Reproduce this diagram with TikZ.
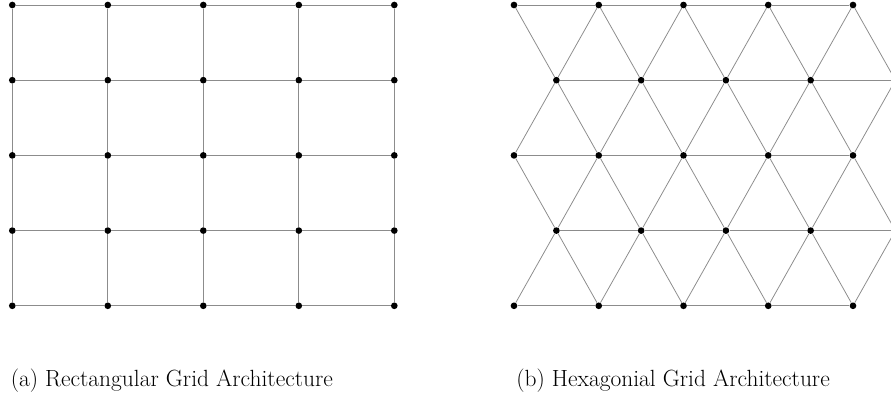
\documentclass[tikz,border=0pt]{standalone}
\begin{document}
\begin{tikzpicture}[x=0.704pt,y=-0.704pt,
  dot/.style={circle,fill=black,inner sep=0pt,minimum size=4.7pt},
  edge/.style={draw=black!45,line width=0.55pt},
  captext/.style={anchor=base west,inner sep=0pt,font=\fontsize{16.5}{20}\selectfont}]
\useasboundingbox (0,0) rectangle (891,399);
\clip (0,0) rectangle (891,399);
% rectangular grid
\foreach \i in {0,...,4} \foreach \j in {0,...,4}
  \node[dot] (r-\i-\j) at ({12.3+95.5*\i},{5+75.2*\j}) {};
\foreach \i in {0,...,4} \foreach \j in {0,...,3} {
  \pgfmathtruncatemacro{\jn}{\j+1}
  \draw[edge] (r-\i-\j) -- (r-\i-\jn);
  \draw[edge] (r-\j-\i) -- (r-\jn-\i);
}
% triangular lattice
\foreach \r in {0,2,4} \foreach \k in {0,...,4}
  \node[dot] (h-\r-\k) at ({514+84.75*\k},{5+75.2*\r}) {};
\foreach \r in {1,3} \foreach \k in {0,...,4}
  \node[dot] (h-\r-\k) at ({556.4+84.75*\k},{5+75.2*\r}) {};
\foreach \r in {0,...,4} \foreach \k in {0,...,3} {
  \pgfmathtruncatemacro{\kn}{\k+1}
  \draw[edge] (h-\r-\k) -- (h-\r-\kn);
}
\foreach \e/\o in {0/1,2/1,2/3,4/3} {
  \foreach \k in {0,...,4} {\draw[edge] (h-\e-\k) -- (h-\o-\k);}
  \foreach \k in {1,...,4} {
    \pgfmathtruncatemacro{\km}{\k-1}
    \draw[edge] (h-\e-\k) -- (h-\o-\km);
  }
}
% captions
\node[captext] (capa) at (10.5,387) {(a) Rectangular Grid Architecture};
\node[captext] (capb) at (516,387) {(b) Hexagonial Grid Architecture};
\end{tikzpicture}
\end{document}
